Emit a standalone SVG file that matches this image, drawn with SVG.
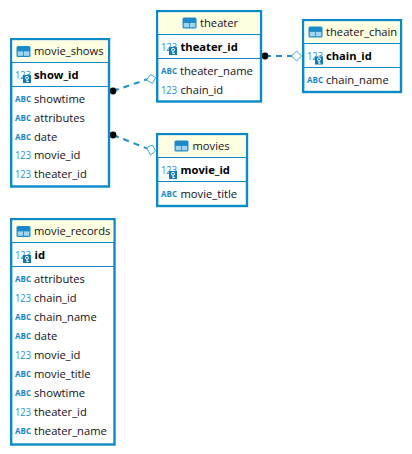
<svg xmlns="http://www.w3.org/2000/svg" width="412" height="454" viewBox="0 0 412 454">
<style>
.box{fill:#fff;stroke:#0b8ac9;stroke-width:2.4}
.hd{fill:#ffffe1}
.ln{stroke:#0b8ac9;stroke-width:1.2;fill:none}
text{font-family:"Open Sans","Noto Sans","Liberation Sans",sans-serif;font-size:11.2px;fill:#10101c}
.b{font-weight:700;fill:#000}
.n{font-size:11px;fill:#1c8fd6}
.a{font-size:8.500px;font-weight:700;fill:#1b86c8}
.c{stroke:#1b8fcf;stroke-width:2;stroke-dasharray:6 5;fill:none}
.d{fill:#fff;stroke:#3ba5dc;stroke-width:1}
</style>
<defs>
<g id="tbl"><rect x="0" y="0" width="14" height="11" rx="1.500" fill="#1b8ac9"/><rect x="1.200" y="5.400" width="5.400" height="4.400" fill="#9fd4f2"/><rect x="7.400" y="5.400" width="5.400" height="4.400" fill="#9fd4f2"/></g>
<g id="kicon"><rect x="0" y="0" width="8" height="8" fill="#1479b8"/><circle cx="4" cy="2.800" r="1.500" fill="none" stroke="#fff" stroke-width="1"/><path d="M4 4.300V7.200M4 6.500H5.800" stroke="#fff" stroke-width="1"/></g>
</defs>
<g id="connectors">
<path class="c" d="M113 91L151 78"/>
<path class="c" d="M113 135L151 150"/>
<path class="c" d="M265 56L296 56"/>
<circle cx="113" cy="91" r="3.400" fill="#000"/>
<circle cx="113" cy="135" r="3.400" fill="#000"/>
<circle cx="265" cy="56" r="3.400" fill="#000"/>
<path class="d" d="M146.500 80 L150.500 74.500 L155.500 77.500 L152.500 83.500Z"/>
<path class="d" d="M146.500 147.500 L152.500 145 L155.500 151 L150.500 155Z"/>
<path class="d" d="M291.500 56 L296.500 51 L301.500 56 L296.500 61Z"/>
</g>
<g id="movie_shows">
<rect class="box" x="11.200" y="39.200" width="97.800" height="147.300"/>
<rect class="hd" x="12.400" y="40.400" width="95.400" height="21.400"/>
<path class="ln" d="M12 62.500H108M12 86.500H108"/>
<use href="#tbl" x="16.500" y="46"/>
<text x="34" y="55">movie_shows</text>
<text class="n" x="15" y="79" textLength="16" lengthAdjust="spacingAndGlyphs">123</text><use href="#kicon" x="23" y="75"/>
<text class="b" x="34" y="79">show_id</text>
<text class="a" x="15" y="102" textLength="16" lengthAdjust="spacingAndGlyphs">ABC</text><text x="34" y="103">showtime</text>
<text class="a" x="15" y="121" textLength="16" lengthAdjust="spacingAndGlyphs">ABC</text><text x="34" y="122">attributes</text>
<text class="a" x="15" y="140" textLength="16" lengthAdjust="spacingAndGlyphs">ABC</text><text x="34" y="141">date</text>
<text class="n" x="15" y="159" textLength="16" lengthAdjust="spacingAndGlyphs">123</text><text x="34" y="159">movie_id</text>
<text class="n" x="15" y="178" textLength="16" lengthAdjust="spacingAndGlyphs">123</text><text x="34" y="178">theater_id</text>
</g>
<g id="theater">
<rect class="box" x="157.200" y="11.200" width="103.800" height="90.300"/>
<rect class="hd" x="158.400" y="12.400" width="101.400" height="21.400"/>
<path class="ln" d="M158 34.500H260M158 58.500H260"/>
<use href="#tbl" x="182.500" y="17.500"/>
<text x="200" y="27">theater</text>
<text class="n" x="161" y="51" textLength="16" lengthAdjust="spacingAndGlyphs">123</text><use href="#kicon" x="169" y="47"/>
<text class="b" x="180.500" y="51">theater_id</text>
<text class="a" x="161" y="74" textLength="16" lengthAdjust="spacingAndGlyphs">ABC</text><text x="180" y="75">theater_name</text>
<text class="n" x="161" y="94" textLength="16" lengthAdjust="spacingAndGlyphs">123</text><text x="180.500" y="94">chain_id</text>
</g>
<g id="theater_chain">
<rect class="box" x="303.200" y="20.200" width="97.800" height="71.800"/>
<rect class="hd" x="304.400" y="21.400" width="95.400" height="21.400"/>
<path class="ln" d="M304 43.500H400M304 67.500H400"/>
<use href="#tbl" x="308.500" y="26.500"/>
<text x="326" y="36">theater_chain</text>
<text class="n" x="307" y="60" textLength="16" lengthAdjust="spacingAndGlyphs">123</text><use href="#kicon" x="315" y="56.500"/>
<text class="b" x="326" y="60">chain_id</text>
<text class="a" x="307" y="83" textLength="16" lengthAdjust="spacingAndGlyphs">ABC</text><text x="326" y="84">chain_name</text>
</g>
<g id="movies">
<rect class="box" x="157.200" y="134.200" width="89.800" height="71.800"/>
<rect class="hd" x="158.400" y="135.400" width="87.400" height="21.400"/>
<path class="ln" d="M158 157.500H246M158 181.500H246"/>
<use href="#tbl" x="174.500" y="140.500"/>
<text x="192.500" y="150">movies</text>
<text class="n" x="161" y="174" textLength="16" lengthAdjust="spacingAndGlyphs">123</text><use href="#kicon" x="169" y="171"/>
<text class="b" x="180.500" y="174">movie_id</text>
<text class="a" x="161" y="197" textLength="16" lengthAdjust="spacingAndGlyphs">ABC</text><text x="180.500" y="198">movie_title</text>
</g>
<g id="movie_records">
<rect class="box" x="11.200" y="219.200" width="103.300" height="225.300"/>
<rect class="hd" x="12.400" y="220.400" width="100.900" height="21.400"/>
<path class="ln" d="M12 242.500H114M12 266.500H114"/>
<use href="#tbl" x="16.500" y="226"/>
<text x="34" y="235">movie_records</text>
<text class="n" x="15" y="259" textLength="16" lengthAdjust="spacingAndGlyphs">123</text><use href="#kicon" x="23" y="255"/>
<text class="b" x="34.500" y="259">id</text>
<text class="a" x="15" y="282" textLength="16" lengthAdjust="spacingAndGlyphs">ABC</text><text x="34" y="283">attributes</text>
<text class="n" x="15" y="302" textLength="16" lengthAdjust="spacingAndGlyphs">123</text><text x="34" y="302">chain_id</text>
<text class="a" x="15" y="320" textLength="16" lengthAdjust="spacingAndGlyphs">ABC</text><text x="34" y="321">chain_name</text>
<text class="a" x="15" y="339" textLength="16" lengthAdjust="spacingAndGlyphs">ABC</text><text x="34" y="340">date</text>
<text class="n" x="15" y="359" textLength="16" lengthAdjust="spacingAndGlyphs">123</text><text x="34" y="359">movie_id</text>
<text class="a" x="15" y="377" textLength="16" lengthAdjust="spacingAndGlyphs">ABC</text><text x="34" y="378">movie_title</text>
<text class="a" x="15" y="396" textLength="16" lengthAdjust="spacingAndGlyphs">ABC</text><text x="34" y="397">showtime</text>
<text class="n" x="15" y="416" textLength="16" lengthAdjust="spacingAndGlyphs">123</text><text x="34" y="416">theater_id</text>
<text class="a" x="15" y="434" textLength="16" lengthAdjust="spacingAndGlyphs">ABC</text><text x="34" y="435">theater_name</text>
</g>
</svg>
